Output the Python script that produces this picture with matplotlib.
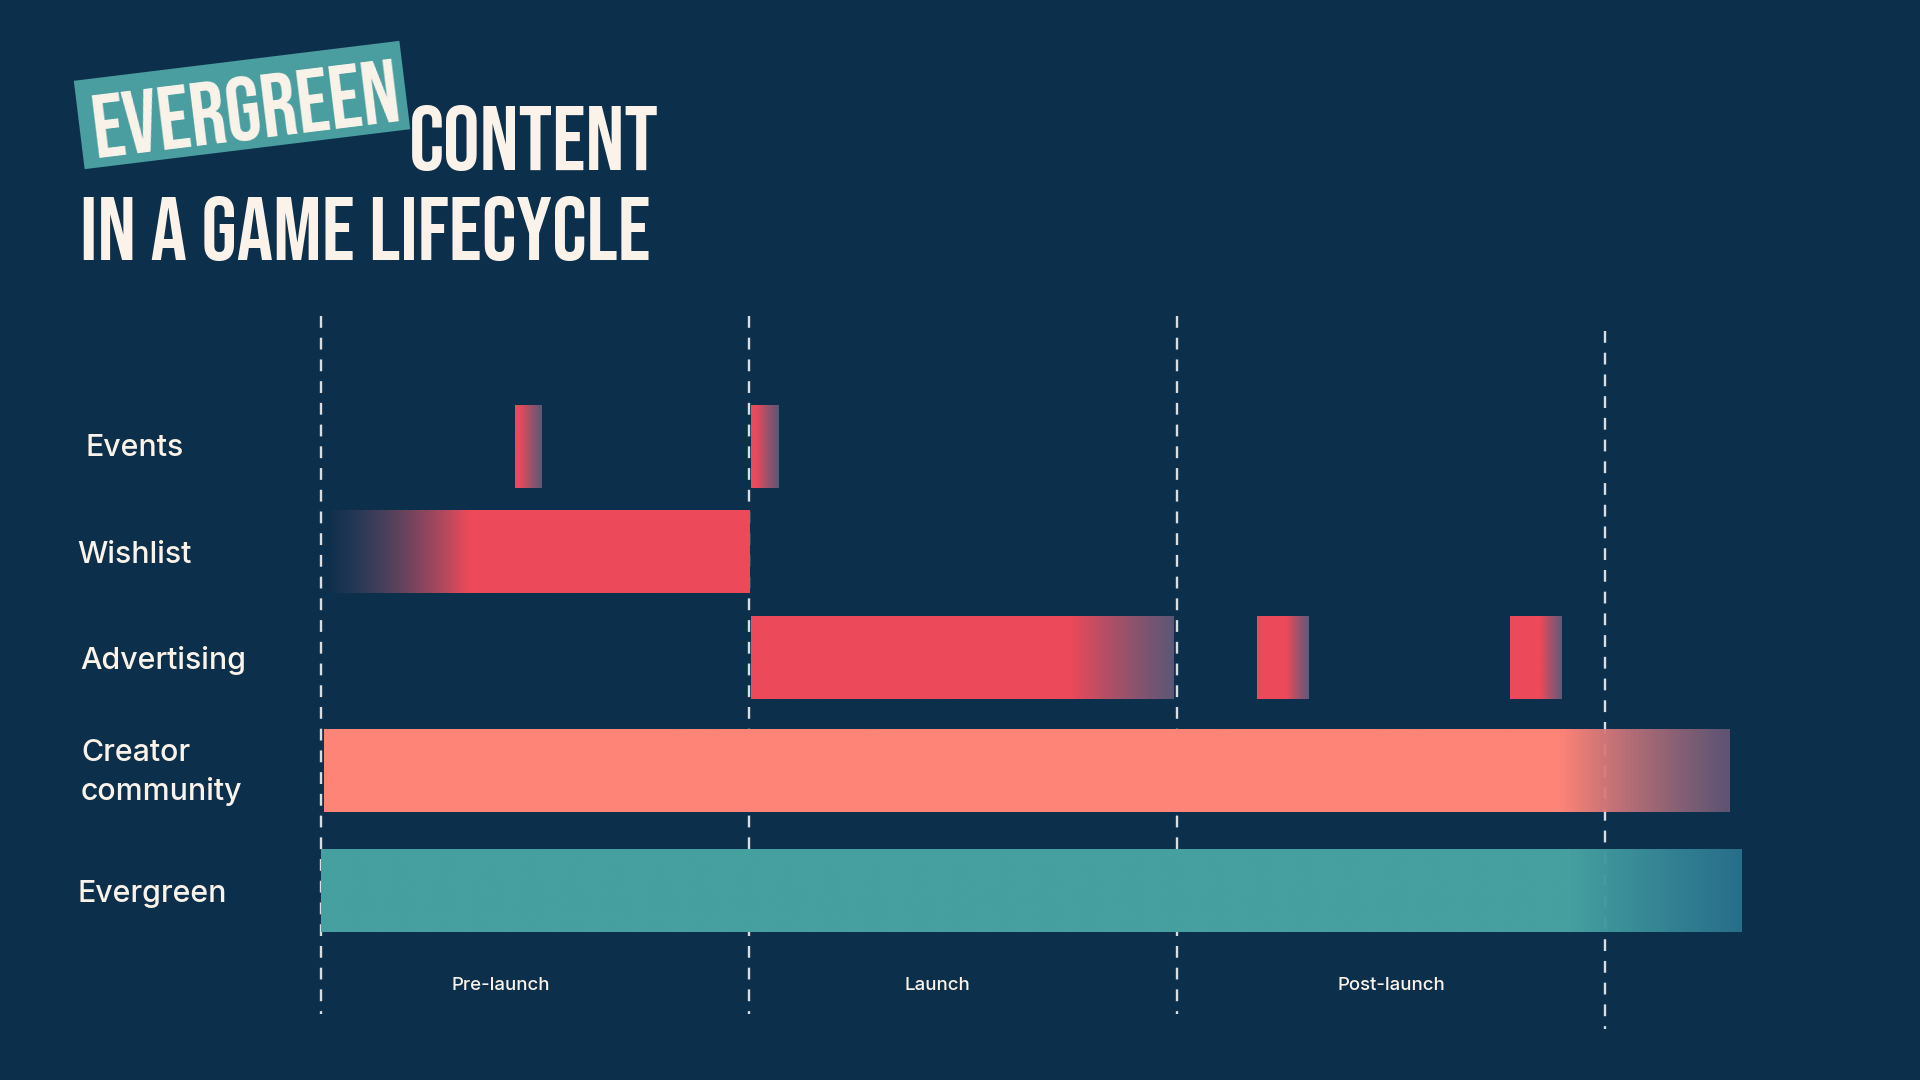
import numpy as np
import matplotlib
matplotlib.use("Agg")
import matplotlib.pyplot as plt
from matplotlib import font_manager as fm
from matplotlib.patches import Rectangle
from matplotlib.colors import to_rgb

# ---------------- data ----------------
categories = ["Events", "Wishlist", "Advertising", "Creator\ncommunity", "Evergreen"]
phases = ["Pre-launch", "Launch", "Post-launch"]
phase_bounds = [0, 1, 2, 3]

# bar segments (x in phase units: 0 = start of pre-launch, 1 = launch, 2 = post-launch, 3 = end)
seg_row   = ["Events", "Events", "Wishlist", "Advertising", "Advertising", "Advertising",
             "Creator\ncommunity", "Evergreen"]
seg_start = [0.454, 1.004, 0.012, 1.004, 2.188, 2.778, 0.008, 0.000]
seg_end   = [0.517, 1.069, 1.002, 1.991, 2.308, 2.898, 3.292, 3.318]
fade_from = [0.466, 1.016, 0.012, 1.753, 2.257, 2.849, 2.898, 2.921]
fade_to   = [0.517, 1.069, 0.343, 1.991, 2.308, 2.898, 3.292, 3.318]
alpha_from = [1.0, 1.0, 0.0, 1.0, 1.0, 1.0, 1.0, 1.0]
alpha_to   = [0.8, 0.8, 1.0, 0.8, 0.85, 0.85, 0.8, 0.85]
seg_kind  = ["red", "red", "red_in", "red", "red", "red", "salmon", "teal"]

title_tag = "EVERGREEN"
title_l1 = "CONTENT"
title_l2 = "IN A GAME LIFECYCLE"

# ---------------- style ----------------
BG = "#0C2F4B"
CREAM = "#FBF3EA"
COLORS = {"red": ("#EC4A5A", "#706283"),
          "red_in": ("#706283", "#EC4A5A"),
          "salmon": ("#FF8478", "#725D7E"),
          "teal": ("#46A0A0", "#2D7B95")}
LINE = "#D9DEE4"

W, H = 1920, 1080
fig = plt.figure(figsize=(19.2, 10.8), dpi=100, facecolor=BG)

# layout (pixel positions in a 1920x1080 frame)
PX0, PX_PER = 321.0, 428.0                       # phase 0 at x=321px, one phase = 428px
row_center = {"Events": 447, "Wishlist": 552, "Advertising": 658,
              "Creator\ncommunity": 771, "Evergreen": 891}
bar_h = 83
vline_y = [(316, 1014), (316, 1014), (316, 1014), (331, 1029)]

# chart axes: x in phase units, y in pixels (inverted)
ax = fig.add_axes([0, 0, 1, 1])
ax.set_facecolor(BG)
ax.axis("off")

# dashed phase boundaries
for xb, (y0, y1) in zip(phase_bounds, vline_y):
    ax.plot([xb, xb], [y0, y1], color=LINE, lw=1.7, ls=(0, (5.0, 4.2)),
            solid_capstyle="butt", dash_capstyle="butt", zorder=1)

# gradient bars
N = 600
for r, s, e, ff, ft, a0, a1, k in zip(seg_row, seg_start, seg_end, fade_from, fade_to,
                                       alpha_from, alpha_to, seg_kind):
    xs = np.linspace(s, e, N)
    t = np.clip((xs - ff) / max(ft - ff, 1e-9), 0, 1)
    c0 = np.array(to_rgb(COLORS[k][0]))
    c1 = np.array(to_rgb(COLORS[k][1]))
    rgb = c0[None, :] * (1 - t[:, None]) + c1[None, :] * t[:, None]
    alpha = a0 + (a1 - a0) * t
    img = np.concatenate([rgb, alpha[:, None]], axis=1)[None, :, :]
    yc = row_center[r]
    ax.imshow(img, extent=(s, e, yc + bar_h / 2, yc - bar_h / 2), aspect="auto",
              interpolation="bilinear", zorder=2)
ax.set_xlim(-PX0 / PX_PER, (W - PX0) / PX_PER)
ax.set_ylim(H, 0)

# overlay axes in pixel coordinates for text
tx = fig.add_axes([0, 0, 1, 1])
tx.set_xlim(0, W)
tx.set_ylim(H, 0)
tx.axis("off")
tx.patch.set_alpha(0)

renderer = fig.canvas.get_renderer()

def fit(t, target_w):
    w = t.get_window_extent(renderer).width
    t.set_fontsize(t.get_fontsize() * target_w / w)
    return t

LABEL_FONT = ["Inter", "DejaVu Sans"]
lab_x = {"Events": 86, "Wishlist": 77, "Advertising": 80, "Creator\ncommunity": 81, "Evergreen": 77}
lab_base = {"Events": [456], "Wishlist": [563], "Advertising": [669],
            "Creator\ncommunity": [761, 800], "Evergreen": [902]}
# size from "Advertising" width
probe = tx.text(0, 0, "Advertising", fontsize=20, family=LABEL_FONT, weight=500)
fit(probe, 166)
lab_size = probe.get_fontsize()
probe.remove()
for c in categories:
    for line, yb in zip(c.split("\n"), lab_base[c]):
        tx.text(lab_x[c], yb, line, fontsize=lab_size, family=LABEL_FONT, weight=500,
                color=CREAM, ha="left", va="baseline")

# phase labels
ph_center = [501, 937, 1391]
probe = tx.text(0, 0, "Post-launch", fontsize=12, family=LABEL_FONT, weight=500)
fit(probe, 108)
ph_size = probe.get_fontsize()
probe.remove()
for p, xc in zip(phases, ph_center):
    tx.text(xc, 990, p, fontsize=ph_size, family=LABEL_FONT, weight=500, color=CREAM,
            ha="center", va="baseline")

# condensed title font
def pick_condensed():
    entries = fm.fontManager.ttflist
    def wnum(e):
        w = e.weight
        if isinstance(w, str):
            w = fm.weight_dict.get(w, 400)
        return int(w)
    prefs = ["Bebas Neue", "Oswald", "Anton", "League Gothic", "Roboto Condensed",
             "Noto Sans Condensed", "Open Sans Condensed", "Liberation Sans Narrow",
             "DejaVu Sans Condensed"]
    for p in prefs:
        c = [e for e in entries if e.name == p]
        if c:
            return max(c, key=lambda e: -abs(wnum(e) - 750))
    def score(e):
        f = e.fname
        st = str(e.stretch)
        s = 0
        if "ExtraCondensed" in f or st == "extra-condensed":
            s = 3
        elif "SemiCondensed" in f or st == "semi-condensed":
            s = 1
        elif "Condensed" in f or "Narrow" in f or st == "condensed":
            s = 2
        return s
    c = [e for e in entries if score(e) > 0 and "Mono" not in e.fname and "Serif" not in e.name]
    if c:
        return max(c, key=lambda e: (score(e), -abs(wnum(e) - 750)))
    return None

ent = pick_condensed()
if ent is not None:
    TFP = dict(fontproperties=fm.FontProperties(fname=ent.fname))
else:
    TFP = dict(family="DejaVu Sans", weight="bold")

t2 = tx.text(80, 260, title_l2, color=CREAM, ha="left", va="baseline", fontsize=60, **TFP)
fit(t2, 570)
t1 = tx.text(409, 170, title_l1, color=CREAM, ha="left", va="baseline", fontsize=60, **TFP)
fit(t1, 250)

# rotated tag box
box_w, box_h, bcx, bcy, ang = 328, 89, 242, 105, 7.0
tx.add_patch(Rectangle((bcx - box_w / 2, bcy - box_h / 2), box_w, box_h, angle=-ang,
                       rotation_point="center", facecolor="#4A9EA0", edgecolor="none", zorder=3))
t0 = tx.text(bcx + 3, bcy + 3, title_tag, color=CREAM, ha="center", va="center", fontsize=60,
             zorder=4, **TFP)
fit(t0, 310)
t0.set_rotation(ang)
t0.set_rotation_mode("anchor")

fig.savefig("out.png", dpi=100, facecolor=BG)
